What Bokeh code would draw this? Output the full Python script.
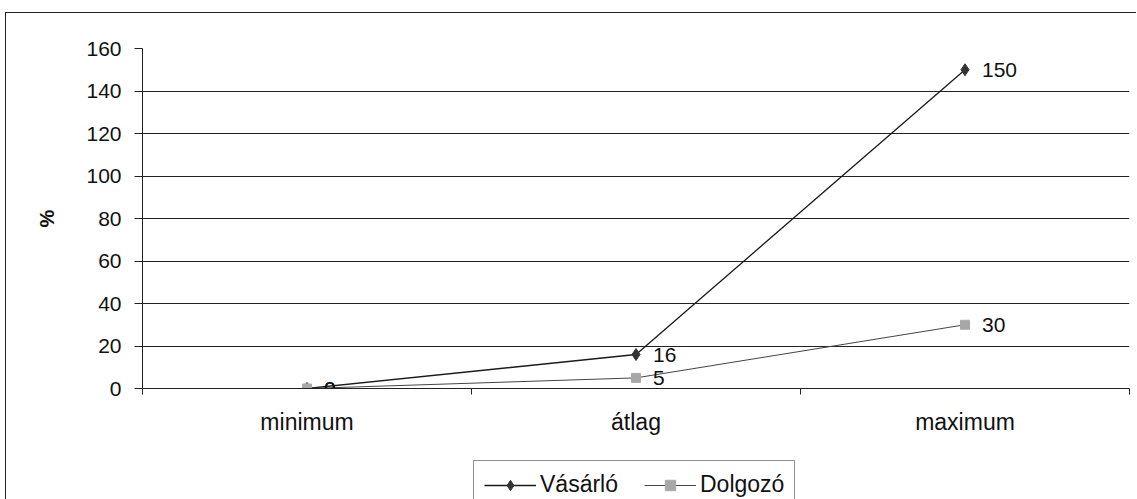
from bokeh.plotting import figure
from bokeh.models import Range1d, FixedTicker, Legend, LegendItem
from bokeh.layouts import column
from bokeh.embed import file_html
from bokeh.resources import INLINE
from bokeh.core.properties import value

# ---- data ----
categories = ["minimum", "átlag", "maximum"]
vasarlo = [0, 16, 150]
dolgozo = [0, 5, 30]
y_ticks = [0, 20, 40, 60, 80, 100, 120, 140, 160]
series_names = ["Vásárló", "Dolgozó"]

FONT = "Liberation Sans"
xs = [i + 0.5 for i in range(len(categories))]
bounds = list(range(len(categories) + 1))

V_LINE = dict(line_color="#1a1a1a", line_width=1.3)
V_MARK = dict(marker="diamond", size=12, fill_color="#333333", line_color="#333333")
D_LINE = dict(line_color="#444444", line_width=1)
D_MARK = dict(marker="square", size=9, fill_color="#a8a8a8", line_color="#a8a8a8")

p = figure(width=1130, height=445, output_backend="svg", toolbar_location=None,
           x_range=Range1d(0, len(categories)), y_range=Range1d(y_ticks[0], y_ticks[-1]),
           min_border_left=136, min_border_right=7, min_border_top=35, min_border_bottom=70)
p.outline_line_color = None
p.background_fill_color = "white"
p.border_fill_color = "white"

# x axis
xa = p.xaxis[0]
xa.ticker = FixedTicker(ticks=xs, minor_ticks=bounds)
xa.major_label_overrides = {x: c for x, c in zip(xs, categories)}
xa.major_tick_in = 0
xa.major_tick_out = 0
xa.minor_tick_in = 0
xa.minor_tick_out = 6
xa.minor_tick_line_color = "#222"
xa.axis_line_color = "#222"
xa.major_label_standoff = 14
xa.major_label_text_font = FONT
xa.major_label_text_font_size = "23px"
xa.major_label_text_color = "#111"

# y axis
ya = p.yaxis[0]
ya.ticker = FixedTicker(ticks=y_ticks)
ya.major_tick_in = 0
ya.major_tick_out = 8
ya.minor_tick_line_color = None
ya.major_tick_line_color = "#222"
ya.axis_line_color = "#222"
ya.major_label_standoff = 13
ya.major_label_text_font = FONT
ya.major_label_text_font_size = "21px"
ya.major_label_text_color = "#111"
ya.axis_label = "%"
ya.axis_label_text_font = FONT
ya.axis_label_text_font_size = "20px"
ya.axis_label_text_font_style = "bold"
ya.axis_label_text_color = "#111"
ya.axis_label_standoff = 25

p.xgrid.visible = False
p.ygrid.ticker = FixedTicker(ticks=y_ticks)
p.ygrid.grid_line_color = "#222"
p.ygrid.grid_line_width = 1

# series
p.line(xs, vasarlo, **V_LINE)
p.scatter(xs, vasarlo, **V_MARK)
p.line(xs, dolgozo, **D_LINE)
p.scatter(xs, dolgozo, **D_MARK)

p.text(xs, vasarlo, text=[str(v) for v in vasarlo], x_offset=17, text_baseline="middle",
       text_align="left", text_font=value(FONT), text_font_size="21px", text_color="#111")
p.text(xs, dolgozo, text=[str(v) for v in dolgozo], x_offset=17, text_baseline="middle",
       text_align="left", text_font=value(FONT), text_font_size="21px", text_color="#111")

# ---- legend strip (same series, drawn outside its view; only the legend shows) ----
lg = figure(width=1130, height=41, output_backend="svg", toolbar_location=None,
            x_range=Range1d(-20, -10), y_range=Range1d(-20, -10),
            x_axis_location=None, y_axis_location=None,
            min_border_left=136, min_border_right=7, min_border_top=0, min_border_bottom=0)
lg.grid.visible = False
lg.outline_line_color = None
lg.background_fill_color = "white"
lg.border_fill_color = "white"
l1 = lg.line(xs, vasarlo, **V_LINE)
s1 = lg.scatter(xs, vasarlo, **V_MARK)
l2 = lg.line(xs, dolgozo, **D_LINE)
s2 = lg.scatter(xs, dolgozo, **D_MARK)

legend = Legend(items=[LegendItem(label=series_names[0], renderers=[l1, s1]),
                       LegendItem(label=series_names[1], renderers=[l2, s2])],
                orientation="horizontal", location=(331, -10),
                border_line_color="#222", border_line_width=1,
                background_fill_color="white", background_fill_alpha=1,
                padding=10, spacing=26, glyph_width=52, glyph_height=26,
                label_standoff=4, label_text_font=FONT, label_text_font_size="23px",
                label_text_color="#111", margin=0)
lg.add_layout(legend)

layout = column(p, lg, spacing=0, margin=(12, 0, 0, 5),
                styles={"border-left": "1px solid #222", "border-top": "1px solid #222"})

open("out.html", "w").write(file_html(layout, INLINE))
